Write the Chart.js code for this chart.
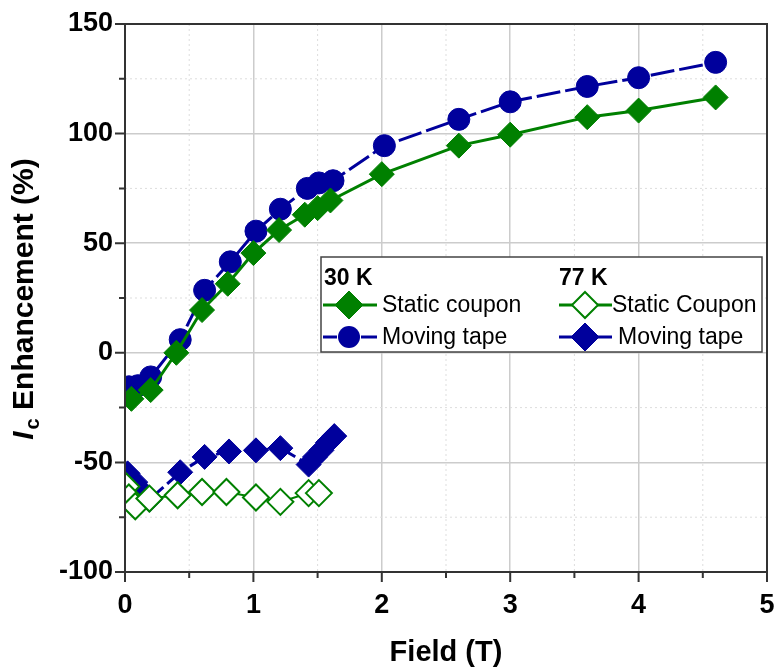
<!DOCTYPE html>
<html>
<head>
<meta charset="utf-8">
<script src="https://cdn.jsdelivr.net/npm/chart.js@4/dist/chart.umd.min.js"></script>
<style>
html, body { margin: 0; padding: 0; background: #fff; }
#wrap { width: 774px; height: 670px; }
</style>
</head>
<body>
<div id="wrap"><canvas id="chart" width="774" height="670"></canvas></div>
<script>
// values
const field30Static = [0.05, 0.2, 0.4, 0.6, 0.8, 1.0, 1.2, 1.4, 1.5, 1.6, 2.0, 2.6, 3.0, 3.6, 4.0, 4.6];
const enh30Static = [-21, -17, 0, 19.5, 31.5, 45.5, 56, 63, 66, 69.5, 81.5, 94.5, 99.5, 107.5, 110.5, 116.5];

const field30Moving = [0.03, 0.1, 0.2, 0.43, 0.62, 0.82, 1.02, 1.21, 1.42, 1.51, 1.62, 2.02, 2.6, 3.0, 3.6, 4.0, 4.6];
const enh30Moving = [-15.5, -15, -11, 6, 28.5, 41.5, 55.5, 65.5, 75, 77.5, 78.5, 94.5, 106.5, 114.5, 121.5, 125.5, 132.5];

const field77Static = [0.01, 0.03, 0.08, 0.19, 0.41, 0.6, 0.79, 1.02, 1.21, 1.43, 1.51];
const enh77Static = [-61, -66, -70, -66.5, -65, -63.5, -63.5, -66, -68, -64, -64];

const field77Moving = [0.02, 0.08, 0.13, 0.19, 0.43, 0.62, 0.81, 1.02, 1.21, 1.43, 1.48, 1.53, 1.58, 1.63];
const enh77Moving = [-55, -59, -63, -67, -54.5, -47.5, -45, -44.5, -43.5, -51, -47.5, -44.5, -41, -38];

const xTicks = [0, 1, 2, 3, 4, 5];
const yTicks = [-100, -50, 0, 50, 100, 150];

const green = '#008000';
const blue = '#00009c';
const fontFam = '"Liberation Sans", Arial, sans-serif';

function pts(xs, ys) {
    return xs.map((x, i) => ({ x: x, y: ys[i] }));
}

function diamond(ctx, x, y, r, fill, stroke, lw) {
    ctx.beginPath();
    ctx.moveTo(x, y - r);
    ctx.lineTo(x + r, y);
    ctx.lineTo(x, y + r);
    ctx.lineTo(x - r, y);
    ctx.closePath();
    ctx.fillStyle = fill;
    ctx.fill();
    ctx.strokeStyle = stroke;
    ctx.lineWidth = lw;
    ctx.stroke();
}

function hline(ctx, x1, x2, y, color, dash) {
    ctx.beginPath();
    ctx.setLineDash(dash || []);
    ctx.moveTo(x1, y);
    ctx.lineTo(x2, y);
    ctx.strokeStyle = color;
    ctx.lineWidth = 3;
    ctx.stroke();
    ctx.setLineDash([]);
}

// minor grid, frame, ticks, legend and y title
const decor = {
    id: 'decor',
    beforeDatasetsDraw(chart) {
        const ctx = chart.ctx, a = chart.chartArea;
        const xs = chart.scales.x, ys = chart.scales.y;
        ctx.save();
        ctx.strokeStyle = '#dddddd';
        ctx.lineWidth = 1;
        ctx.setLineDash([2, 3]);
        for (let i = 0; i < xTicks.length - 1; i++) {
            const px = xs.getPixelForValue((xTicks[i] + xTicks[i + 1]) / 2);
            ctx.beginPath(); ctx.moveTo(px, a.top); ctx.lineTo(px, a.bottom); ctx.stroke();
        }
        for (let i = 0; i < yTicks.length - 1; i++) {
            const py = ys.getPixelForValue((yTicks[i] + yTicks[i + 1]) / 2);
            ctx.beginPath(); ctx.moveTo(a.left, py); ctx.lineTo(a.right, py); ctx.stroke();
        }
        ctx.restore();
    },
    afterDatasetsDraw(chart) {
        const ctx = chart.ctx, a = chart.chartArea;
        const xs = chart.scales.x, ys = chart.scales.y;
        ctx.save();
        ctx.strokeStyle = '#333';
        ctx.lineWidth = 2;
        ctx.strokeRect(a.left, a.top, a.right - a.left, a.bottom - a.top);

        // tick marks
        ctx.beginPath();
        xTicks.forEach((v, i) => {
            const px = xs.getPixelForValue(v);
            ctx.moveTo(px, a.bottom); ctx.lineTo(px, a.bottom + 10);
            if (i < xTicks.length - 1) {
                const pm = xs.getPixelForValue((v + xTicks[i + 1]) / 2);
                ctx.moveTo(pm, a.bottom); ctx.lineTo(pm, a.bottom + 6);
            }
        });
        yTicks.forEach((v, i) => {
            const py = ys.getPixelForValue(v);
            ctx.moveTo(a.left, py); ctx.lineTo(a.left - 10, py);
            if (i < yTicks.length - 1) {
                const pm = ys.getPixelForValue((v + yTicks[i + 1]) / 2);
                ctx.moveTo(a.left, pm); ctx.lineTo(a.left - 6, pm);
            }
        });
        ctx.stroke();

        // legend box
        const L = 321, T = 257, R = 762, B = 352;
        ctx.fillStyle = '#fff';
        ctx.fillRect(L, T, R - L, B - T);
        ctx.strokeStyle = '#444';
        ctx.lineWidth = 1.5;
        ctx.strokeRect(L, T, R - L, B - T);

        ctx.fillStyle = '#000';
        ctx.textBaseline = 'alphabetic';
        ctx.textAlign = 'left';
        ctx.font = 'bold 23px ' + fontFam;
        ctx.fillText('30 K', 324, 285);
        ctx.fillText('77 K', 559, 285);

        const r1 = 305, r2 = 337;
        hline(ctx, 323, 377, r1, green);
        diamond(ctx, 349, r1, 14, green, green, 1);
        hline(ctx, 323, 337, r2, blue);
        hline(ctx, 361, 377, r2, blue);
        ctx.beginPath(); ctx.arc(349, r2, 11, 0, Math.PI * 2); ctx.fillStyle = blue; ctx.fill();

        hline(ctx, 559, 612, r1, green);
        diamond(ctx, 585, r1, 13, '#fff', green, 2);
        hline(ctx, 559, 612, r2, blue);
        diamond(ctx, 585, r2, 14, blue, blue, 1);

        ctx.fillStyle = '#000';
        ctx.font = '23px ' + fontFam;
        ctx.textBaseline = 'middle';
        ctx.fillText('Static coupon', 382, r1 + 1);
        ctx.fillText('Moving tape', 382, r2 + 1);
        ctx.fillText('Static Coupon', 612, r1 + 1);
        ctx.fillText('Moving tape', 618, r2 + 1);

        // y title: I_c Enhancement (%)
        ctx.translate(33, 299);
        ctx.rotate(-Math.PI / 2);
        ctx.textBaseline = 'alphabetic';
        const fBig = 'bold 30px ' + fontFam;
        const fIt = 'italic bold 30px ' + fontFam;
        const fSub = 'bold 20px ' + fontFam;
        ctx.font = fIt; const wI = ctx.measureText('I').width + 2;
        ctx.font = fSub; const wc = ctx.measureText('c').width;
        ctx.font = fBig; const wRest = ctx.measureText(' Enhancement (%)').width;
        let x0 = -(wI + wc + wRest) / 2;
        ctx.font = fIt; ctx.fillText('I', x0, 0); x0 += wI;
        ctx.font = fSub; ctx.fillText('c', x0, 6); x0 += wc;
        ctx.font = fBig; ctx.fillText(' Enhancement (%)', x0, 0);
        ctx.restore();
    }
};

const ctx = document.getElementById('chart').getContext('2d');
const chart = new Chart(ctx, {
    type: 'scatter',
    data: {
        datasets: [
            {
                label: 'Static coupon (30 K)',
                data: pts(field30Static, enh30Static),
                showLine: true,
                borderColor: green,
                backgroundColor: green,
                borderWidth: 3,
                pointStyle: 'rectRot',
                pointRadius: 12.5,
                pointBorderWidth: 1,
                order: 1,
                clip: 0
            },
            {
                label: 'Moving tape (30 K)',
                data: pts(field30Moving, enh30Moving),
                showLine: true,
                borderColor: blue,
                backgroundColor: blue,
                borderWidth: 3,
                borderDash: [24, 5],
                pointStyle: 'circle',
                pointRadius: 11,
                pointBorderWidth: 1,
                order: 2,
                clip: 0
            },
            {
                label: 'Static Coupon (77 K)',
                data: pts(field77Static, enh77Static),
                showLine: true,
                borderColor: green,
                backgroundColor: '#ffffff',
                borderWidth: 2,
                pointStyle: 'rectRot',
                pointRadius: 13,
                pointBorderWidth: 2,
                order: 3,
                clip: 0
            },
            {
                label: 'Moving tape (77 K)',
                data: pts(field77Moving, enh77Moving),
                showLine: true,
                borderColor: blue,
                backgroundColor: blue,
                borderWidth: 3,
                borderDash: [24, 5],
                pointStyle: 'rectRot',
                pointRadius: 12.5,
                pointBorderWidth: 1,
                order: 4,
                clip: 0
            }
        ]
    },
    options: {
        responsive: false,
        animation: false,
        layout: { autoPadding: false, padding: { left: 0, right: 7, top: 24, bottom: 0 } },
        plugins: {
            legend: { display: false },
            tooltip: { enabled: false }
        },
        scales: {
            x: {
                type: 'linear',
                min: 0,
                max: 5,
                afterBuildTicks: s => { s.ticks = xTicks.map(v => ({ value: v })); },
                afterFit: s => { s.height = 98; s.paddingLeft = 0; s.paddingRight = 0; },
                ticks: {
                    color: '#000',
                    padding: 0,
                    font: { family: fontFam, size: 27, weight: 'bold', lineHeight: 2.5 }
                },
                grid: { color: '#cccccc', lineWidth: 1.5, drawTicks: false },
                border: { display: true, color: '#333', width: 2 },
                title: {
                    display: true,
                    text: 'Field (T)',
                    color: '#000',
                    padding: { top: 0, bottom: 0 },
                    font: { family: fontFam, size: 29, weight: 'bold' }
                }
            },
            y: {
                type: 'linear',
                min: -100,
                max: 150,
                afterBuildTicks: s => { s.ticks = yTicks.map(v => ({ value: v })); },
                afterFit: s => { s.width = 125; s.paddingTop = 0; s.paddingBottom = 0; },
                ticks: {
                    color: '#000',
                    padding: 12,
                    font: { family: fontFam, size: 27, weight: 'bold' }
                },
                grid: { color: '#cccccc', lineWidth: 1.5, drawTicks: false },
                border: { display: true, color: '#333', width: 2 }
            }
        }
    },
    plugins: [decor]
});
</script>
</body>
</html>
